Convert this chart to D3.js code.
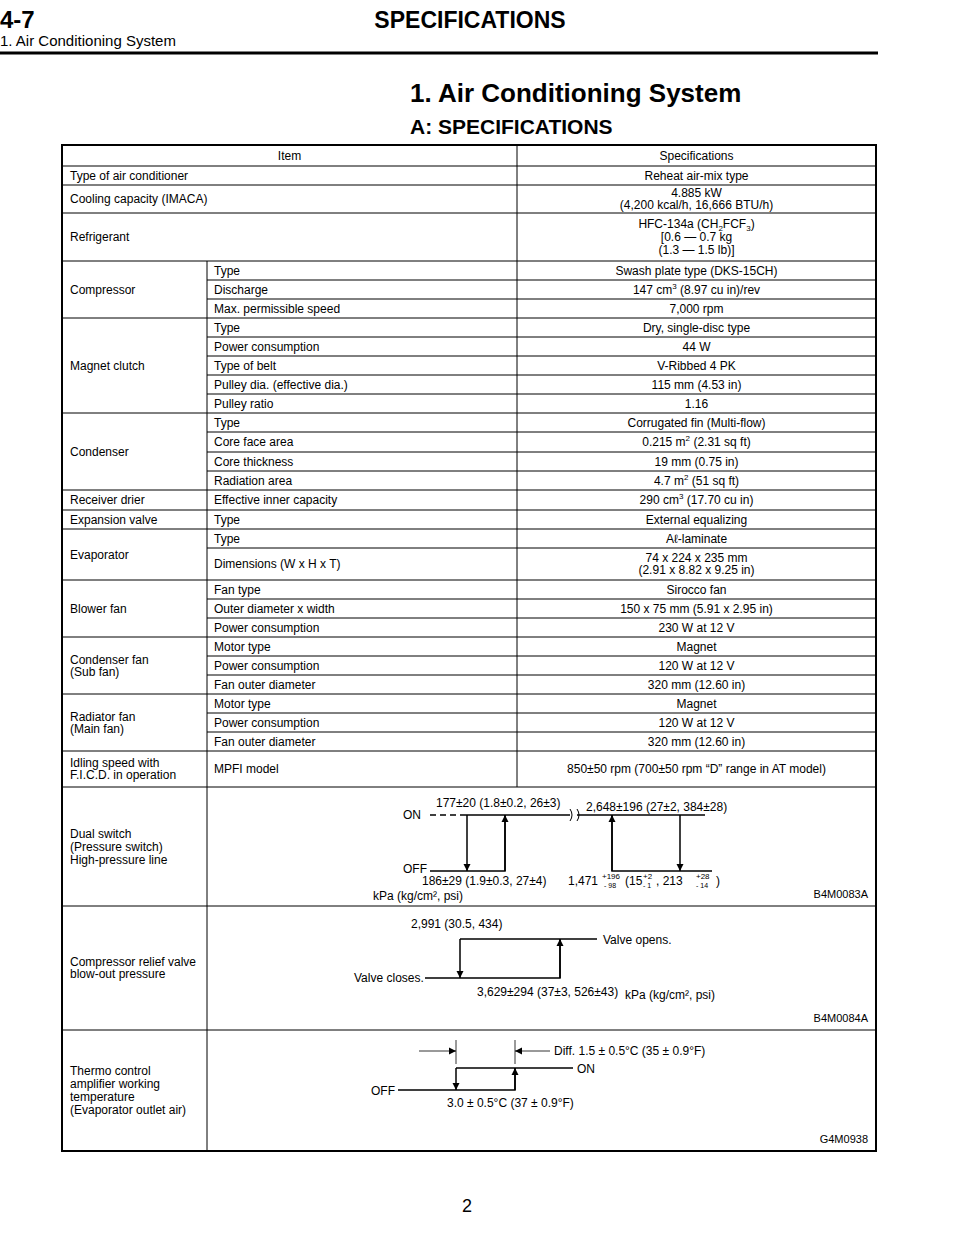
<!DOCTYPE html>
<html><head><meta charset="utf-8">
<script src="https://cdn.jsdelivr.net/npm/d3@7"></script>
<style>
body{margin:0;background:#fff;}
svg{font-family:"Liberation Sans",Arial,sans-serif;}
</style></head>
<body><svg id="page" width="960" height="1242"></svg>
<script>
// rows: [group, item, spec, height]
const groups = ["", "Type of air conditioner", "Cooling capacity (IMACA)", "Refrigerant", "Compressor", "Magnet clutch", "Condenser",
  "Receiver drier", "Expansion valve", "Evaporator", "Blower fan", "Condenser fan\n(Sub fan)", "Radiator fan\n(Main fan)",
  "Idling speed with\nF.I.C.D. in operation", "Dual switch\n(Pressure switch)\nHigh-pressure line",
  "Compressor relief valve\nblow-out pressure", "Thermo control\namplifier working\ntemperature\n(Evaporator outlet air)"];
const items = [
  [["Item", "Specifications", 21]],
  [["", "Reheat air-mix type", 19]],
  [["", "4.885 kW\n(4,200 kcal/h, 16,666 BTU/h)", 28]],
  [["", "HFC-134a (CH{2}FCF{3})\n[0.6 — 0.7 kg\n(1.3 — 1.5 lb)]", 48]],
  [["Type", "Swash plate type (DKS-15CH)", 19], ["Discharge", "147 cm^3 (8.97 cu in)/rev", 19], ["Max. permissible speed", "7,000 rpm", 19]],
  [["Type", "Dry, single-disc type", 19], ["Power consumption", "44 W", 19], ["Type of belt", "V-Ribbed 4 PK", 19],
   ["Pulley dia. (effective dia.)", "115 mm (4.53 in)", 19], ["Pulley ratio", "1.16", 19]],
  [["Type", "Corrugated fin (Multi-flow)", 19], ["Core face area", "0.215 m^2 (2.31 sq ft)", 20], ["Core thickness", "19 mm (0.75 in)", 19], ["Radiation area", "4.7 m^2 (51 sq ft)", 19]],
  [["Effective inner capacity", "290 cm^3 (17.70 cu in)", 20]],
  [["Type", "External equalizing", 19]],
  [["Type", "Aℓ-laminate", 19], ["Dimensions (W x H x T)", "74 x 224 x 235 mm\n(2.91 x 8.82 x 9.25 in)", 32]],
  [["Fan type", "Sirocco fan", 19], ["Outer diameter x width", "150 x 75 mm (5.91 x 2.95 in)", 19], ["Power consumption", "230 W at 12 V", 19]],
  [["Motor type", "Magnet", 19], ["Power consumption", "120 W at 12 V", 19], ["Fan outer diameter", "320 mm (12.60 in)", 19]],
  [["Motor type", "Magnet", 19], ["Power consumption", "120 W at 12 V", 19], ["Fan outer diameter", "320 mm (12.60 in)", 19]],
  [["MPFI model", "850±50 rpm (700±50 rpm “D” range in AT model)", 36]],
  [["", "", 119]],
  [["", "", 124]],
  [["", "", 121]]
];
const figCodes = {14: "B4M0083A", 15: "B4M0084A", 16: "G4M0938"};

const svg = d3.select("#page");
const X0 = 62, X1 = 207, X2 = 517, X3 = 876, Y0 = 145;

// page header
svg.append("text").attr("x", 0).attr("y", 28).attr("font-size", 24).attr("font-weight", "bold").text("4-7");
svg.append("text").attr("x", 470).attr("y", 28).attr("text-anchor", "middle").attr("font-size", 23).attr("font-weight", "bold").text("SPECIFICATIONS");
svg.append("text").attr("x", 0).attr("y", 46).attr("font-size", 15).text("1. Air Conditioning System");
svg.append("line").attr("x1", 0).attr("x2", 878).attr("y1", 53).attr("y2", 53).attr("stroke", "#000").attr("stroke-width", 3);
svg.append("text").attr("x", 410).attr("y", 102).attr("font-size", 26).attr("font-weight", "bold").text("1. Air Conditioning System");
svg.append("text").attr("x", 410).attr("y", 134).attr("font-size", 21).attr("font-weight", "bold").text("A: SPECIFICATIONS");
svg.append("text").attr("x", 467).attr("y", 1212).attr("text-anchor", "middle").attr("font-size", 18).text("2");

function line(x1, y1, x2, y2, w) {
  svg.append("line").attr("x1", x1).attr("y1", y1).attr("x2", x2).attr("y2", y2).attr("stroke", "#000").attr("stroke-width", w || 1);
}
// multi-line text with ^sup and {sub}; one text element per line
function mtext(x, yc, str, anchor) {
  const ls = str.split("\n"), lh = ls.length > 2 ? 13 : 12;
  ls.forEach((l, i) => {
    const y = yc - (ls.length - 1) * lh / 2 + i * lh + 4;
    const t = svg.append("text").attr("font-size", 12).attr("text-anchor", anchor).attr("x", x).attr("y", y);
    let shift = 0;
    l.split(/(\^\d|\{\d\})/).filter(s => s !== "").forEach(p => {
      let target = 0, txt = p, fs = null;
      if (/^\^/.test(p)) { target = -5; txt = p.slice(1); fs = 8; }
      else if (/^\{/.test(p)) { target = 3; txt = p.slice(1, -1); fs = 8; }
      const ts = t.append("tspan").attr("dy", target - shift).text(txt);
      if (fs) ts.attr("font-size", fs);
      shift = target;
    });
  });
}

let y = Y0;
const groupBoxes = [];
items.forEach((rows, gi) => {
  const gy = y;
  rows.forEach((r, ri) => {
    const h = r[2];
    if (gi === 0) {
      mtext((X0 + X2) / 2, y + h / 2, r[0], "middle");
      mtext((X2 + X3) / 2, y + h / 2, r[1], "middle");
    } else if (gi <= 3) {
      mtext(X0 + 8, y + h / 2, groups[gi], "start");
      mtext((X2 + X3) / 2, y + h / 2, r[1], "middle");
    } else if (gi >= 14) {
      mtext(X0 + 8, y + h / 2, groups[gi], "start");
    } else {
      mtext(X1 + 7, y + h / 2, r[0], "start");
      mtext((X2 + X3) / 2, y + h / 2, r[1], "middle");
      if (ri > 0) line(X1, y, X3, y);
    }
    y += h;
  });
  if (gi >= 4 && gi <= 13) mtext(X0 + 8, (gy + y) / 2, groups[gi], "start");
  groupBoxes.push([gy, y]);
  line(X0, y, X3, y);
  if (gi === 0 || gi <= 3) line(X2, gy, X2, y);
  else if (gi <= 13) { line(X1, gy, X1, y); line(X2, gy, X2, y); }
  else {
    line(X1, gy, X1, y);
    svg.append("text").attr("x", 868).attr("y", y - 8).attr("text-anchor", "end").attr("font-size", 11).text(figCodes[gi]);
  }
});
svg.append("rect").attr("x", X0).attr("y", Y0).attr("width", X3 - X0).attr("height", y - Y0)
  .attr("fill", "none").attr("stroke", "#000").attr("stroke-width", 2);

// diagrams
const defs = svg.append("defs");
defs.append("marker").attr("id", "ah").attr("viewBox", "0 0 10 10").attr("refX", 10).attr("refY", 5)
  .attr("markerWidth", 7).attr("markerHeight", 9).attr("markerUnits", "userSpaceOnUse").attr("orient", "auto")
  .append("path").attr("d", "M0,0L10,5L0,10z");
function p(d, w, dash, arrow) {
  const e = svg.append("path").attr("d", d).attr("fill", "none").attr("stroke", "#000").attr("stroke-width", w || 1.5);
  if (dash) e.attr("stroke-dasharray", dash);
  if (arrow) e.attr("marker-end", "url(#ah)");
}
function t(x, yy, s, size, anchor) {
  svg.append("text").attr("x", x).attr("y", yy).attr("font-size", size || 12).attr("text-anchor", anchor || "start").text(s);
}
// dual switch
{
  const [a] = groupBoxes[14];
  const on = a + 28, off = a + 84;
  p(`M430,${on}H465`, 1.5, "6,4");
  p(`M465,${on}H570`); p(`M577,${on}H705`);
  p(`M570,${on - 6}q4,6 0,12M577,${on - 6}q4,6 0,12`, 1);
  p(`M430,${off}H505V${on}`); p(`M467,${on}V${off}`, 1.5, null, true); p(`M505,${off}V${on}`, 1.5, null, true);
  p(`M612,${on}V${off}H712`); p(`M612,${off}V${on}`, 1.5, null, true); p(`M680,${on}V${off}`, 1.5, null, true);
  t(403, on + 4, "ON"); t(403, off + 2, "OFF");
  t(436, on - 8, "177±20 (1.8±0.2, 26±3)"); t(586, on - 4, "2,648±196 (27±2, 384±28)");
  t(422, off + 14, "186±29 (1.9±0.3, 27±4)"); t(373, off + 29, "kPa (kg/cm², psi)");
  t(568, off + 14, "1,471"); t(602, off + 8, "+196", 8); t(604, off + 17, "- 98", 7);
  t(625, off + 14, "(15"); t(643, off + 8, "+2", 8); t(643, off + 17, "- 1", 7);
  t(656, off + 14, ", 213"); t(696, off + 8, "+28", 8); t(696, off + 17, "- 14", 7); t(716, off + 14, ")");
}
// relief valve
{
  const [a] = groupBoxes[15];
  const hi = a + 33, lo = a + 72;
  p(`M425,${lo}H560V${hi}`); p(`M460,${hi}H597`); p(`M460,${hi}V${lo}`, 1.5, null, true);
  p(`M560,${lo}V${hi}`, 1.5, null, true);
  t(411, a + 22, "2,991 (30.5, 434)"); t(603, hi + 5, "Valve opens."); t(354, lo + 4, "Valve closes.");
  t(477, lo + 18, "3,629±294 (37±3, 526±43)"); t(625, lo + 21, "kPa (kg/cm², psi)");
}
// thermo
{
  const [a] = groupBoxes[16];
  const on = a + 38, off = a + 60;
  p(`M398,${off}H515V${on}`); p(`M456,${on}H573`); p(`M456,${on}V${off}`, 1.5, null, true); p(`M515,${off}V${on}`, 1.5, null, true);
  p(`M456,${a + 10}V${on - 4}M515,${a + 10}V${on - 4}`, 0.8);
  p(`M419,${a + 21}H456`, 0.8, null, true); p(`M550,${a + 21}H515`, 0.8, null, true);
  t(554, a + 25, "Diff.  1.5 ± 0.5°C  (35 ± 0.9°F)"); t(577, on + 5, "ON"); t(371, off + 5, "OFF");
  t(447, off + 17, "3.0 ± 0.5°C  (37 ± 0.9°F)");
}
</script></body></html>
